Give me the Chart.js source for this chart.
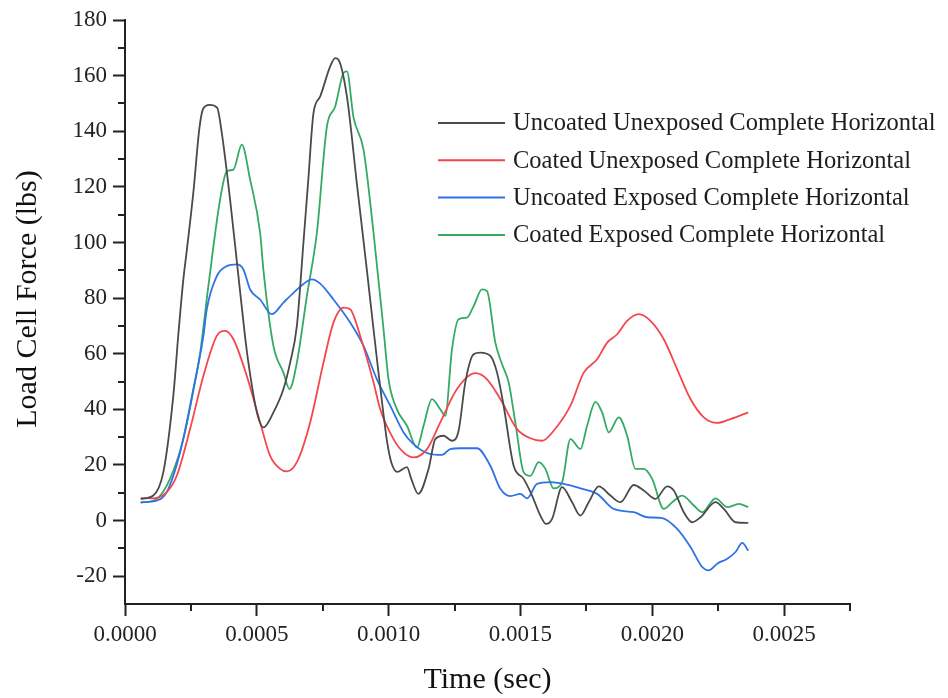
<!DOCTYPE html>
<html>
<head>
<meta charset="utf-8">
<script src="https://cdn.jsdelivr.net/npm/chart.js@4"></script>
<style>
  body { margin: 0; background: #fff; }
  #wrap { width: 948px; height: 698px; }
</style>
</head>
<body>
<div id="wrap"><canvas id="chart"></canvas></div>
<script>
// Time in seconds, force in lbs
const uuTime = [0.0000596, 0.0001074, 0.0001454, 0.0001834, 0.0002024, 0.0002213, 0.0002342, 0.0002593, 0.0002821, 0.0002961,
  0.0003200, 0.0003493, 0.0003671, 0.0003986, 0.0004290, 0.0004556, 0.0004708, 0.0005000, 0.0005251, 0.0005630, 0.0006010,
  0.0006264, 0.0006519, 0.0006769, 0.0006948, 0.0007149, 0.0007403, 0.0007783, 0.0007973, 0.0008098, 0.0008417,
  0.0008797, 0.0009176, 0.0009427, 0.0009605, 0.0009795, 0.0009947, 0.0010099, 0.0010327, 0.0010695, 0.0010858,
  0.0011124, 0.0011515, 0.0011769, 0.0012084, 0.0012403, 0.0012654, 0.0012908, 0.0013223, 0.0013478, 0.0013857,
  0.0014112, 0.0014362, 0.0014742, 0.0015121, 0.0015440, 0.0015756, 0.0015972, 0.0016200, 0.0016579, 0.0016959,
  0.0017274, 0.0017589, 0.0017969, 0.0018413, 0.0018793, 0.0019298, 0.0019677, 0.0020121, 0.0020566, 0.0020816,
  0.0021196, 0.0021515, 0.0021830, 0.0022399, 0.0022715, 0.0023159, 0.0023641];
const uuForce = [7.8, 9.0, 17.4, 45.0, 67.0, 86.7, 97.0, 118.0, 141.0, 148.0,
  149.5, 148.5, 139.4, 115.4, 89.0, 66.0, 55.0, 39.0, 33.5, 38.9, 47.3,
  56.8, 70.0, 100.0, 122.0, 146.5, 152.5, 163.3, 166.3, 165.7, 152.5,
  121.0, 90.0, 68.8, 54.0, 39.0, 28.0, 21.0, 17.5, 19.2, 15.0,
  9.6, 18.6, 29.3, 30.5, 28.7, 32.3, 49.7, 59.8, 60.4, 59.2,
  53.2, 41.3, 19.7, 15.0, 9.0, 1.8, -1.2, 0.6, 12.0, 6.6,
  1.8, 6.6, 12.3, 9.0, 6.6, 12.8, 10.8, 7.8, 12.3, 10.8,
  3.0, -0.6, 1.2, 6.6, 4.2, -0.6, -0.8];

const cuTime = [0.0000596, 0.0001074, 0.0001583, 0.0001963, 0.0002468, 0.0002973, 0.0003481, 0.0003797, 0.0004112, 0.0004620,
  0.0005125, 0.0005505, 0.0005885, 0.0006139, 0.0006519, 0.0007024, 0.0007528, 0.0007908, 0.0008288, 0.0008542,
  0.0008922, 0.0009427, 0.0009681, 0.0010186, 0.0010566, 0.0010945, 0.0011454, 0.0011959, 0.0012593, 0.0013288,
  0.0013732, 0.0014237, 0.0014871, 0.0015376, 0.0015820, 0.0016260, 0.0016895, 0.0017400, 0.0017908, 0.0018288,
  0.0018667, 0.0019047, 0.0019488, 0.0019932, 0.0020437, 0.0020945, 0.0021450, 0.0021955, 0.0022464, 0.0022969,
  0.0023641];
const cuForce = [8.1, 8.0, 10.2, 16.1, 32.9, 52.0, 66.4, 68.2, 65.2, 52.0,
  35.3, 23.3, 18.6, 17.7, 21.0, 35.3, 56.8, 71.2, 76.6, 76.0,
  66.4, 49.7, 40.0, 29.3, 24.5, 22.7, 25.7, 35.3, 47.3, 53.0,
  50.8, 43.7, 32.9, 29.6, 28.7, 32.3, 41.3, 53.2, 58.0, 64.0,
  67.0, 71.8, 74.2, 71.8, 65.2, 54.4, 43.7, 37.1, 35.1, 36.5,
  38.9];

const ueTime = [0.0000596, 0.0001203, 0.0001583, 0.0002088, 0.0002593, 0.0002973, 0.0003102, 0.0003481, 0.0003861, 0.0004241,
  0.0004491, 0.0004746, 0.0005125, 0.0005569, 0.0006010, 0.0006390, 0.0006898, 0.0007088, 0.0007403, 0.0007908,
  0.0008542, 0.0009047, 0.0009556, 0.0010061, 0.0010566, 0.0010945, 0.0011454, 0.0012024, 0.0012339, 0.0012719,
  0.0013352, 0.0013857, 0.0014237, 0.0014617, 0.0014996, 0.0015251, 0.0015630, 0.0016135, 0.0016640, 0.0017274,
  0.0017908, 0.0018538, 0.0019298, 0.0019807, 0.0020376, 0.0020945, 0.0021450, 0.0021895, 0.0022145, 0.0022464,
  0.0022844, 0.0023159, 0.0023413, 0.0023641];
const ueForce = [6.6, 7.2, 10.2, 24.5, 47.3, 66.4, 76.0, 87.9, 91.5, 92.1,
  90.3, 83.1, 79.5, 74.2, 78.4, 81.9, 86.0, 86.7, 85.2, 79.5,
  71.2, 62.8, 50.8, 41.3, 31.7, 27.5, 24.3, 23.6, 25.7, 26.0,
  26.0, 19.7, 11.4, 8.8, 9.6, 8.0, 13.2, 13.8, 13.2, 11.6,
  9.6, 4.2, 3.0, 1.2, 0.9, -3.0, -9.5, -16.7, -17.9, -15.5,
  -13.7, -11.3, -8.0, -10.8];

const ceTime = [0.0000596, 0.0001203, 0.0001708, 0.0002213, 0.0002722, 0.0002847, 0.0003162, 0.0003607, 0.0003861, 0.0004112,
  0.0004431, 0.0004746, 0.0005125, 0.0005251, 0.0005630, 0.0006010, 0.0006238, 0.0006519, 0.0006898, 0.0007278,
  0.0007658, 0.0007973, 0.0008288, 0.0008417, 0.0008667, 0.0009047, 0.0009427, 0.0009806, 0.0009996, 0.0010315,
  0.0010695, 0.0011074, 0.0011325, 0.0011644, 0.0011959, 0.0012149, 0.0012403, 0.0012654, 0.0012973, 0.0013223,
  0.0013542, 0.0013732, 0.0014047, 0.0014302, 0.0014552, 0.0014806, 0.0015121, 0.0015376, 0.0015691, 0.0015945,
  0.0016260, 0.0016579, 0.0016895, 0.0017274, 0.0017529, 0.0017844, 0.0018098, 0.0018349, 0.0018728, 0.0019047,
  0.0019362, 0.0019677, 0.0019996, 0.0020437, 0.0020756, 0.0021135, 0.0021576, 0.0021895, 0.0022399, 0.0022844,
  0.0023284, 0.0023641];
const ceForce = [6.4, 7.8, 15.0, 29.3, 53.2, 60.0, 84.3, 115.4, 125.6, 126.2,
  135.2, 122.6, 103.5, 90.0, 62.8, 53.2, 47.3, 56.8, 80.7, 103.5,
  141.7, 148.9, 160.9, 161.5, 145.0, 133.4, 103.5, 68.8, 50.8, 40.0,
  34.1, 26.3, 34.1, 43.7, 40.0, 37.7, 61.6, 72.4, 73.0, 77.1,
  83.1, 82.5, 64.0, 56.2, 49.7, 35.3, 17.4, 16.1, 21.0, 18.6,
  11.6, 13.8, 29.3, 25.7, 34.1, 42.7, 38.9, 31.7, 37.1, 30.5,
  18.6, 18.6, 15.0, 4.2, 6.6, 9.0, 5.4, 3.0, 8.0, 4.8,
  6.0, 4.8];

const seriesNames = [
  "Uncoated Unexposed Complete Horizontal",
  "Coated Unexposed Complete Horizontal",
  "Uncoated Exposed Complete Horizontal",
  "Coated Exposed Complete Horizontal",
];
const seriesColors = ["#4a4a4a", "#f4464c", "#2f72e6", "#34aa63"];

const xTicks = [0, 0.0005, 0.0010, 0.0015, 0.0020, 0.0025];
const yTicks = [-20, 0, 20, 40, 60, 80, 100, 120, 140, 160, 180];
const xMinor = [0.00025, 0.00075, 0.00125, 0.00175, 0.00225, 0.00275];
const yMinor = [-10, 10, 30, 50, 70, 90, 110, 130, 150, 170];

const axisColor = "#222";
const serif = '"Liberation Serif", "Times New Roman", serif';
Chart.defaults.font.family = serif;
Chart.defaults.color = axisColor;

function zip(ts, vs) {
  return ts.map((t, i) => ({ x: t, y: vs[i] }));
}

const allSeries = [[uuTime, uuForce], [cuTime, cuForce], [ueTime, ueForce], [ceTime, ceForce]];

// minor ticks, y title and the legend inside the plot
const extras = {
  id: "extras",
  afterDraw(chart) {
    const { ctx, scales: { x, y } } = chart;
    ctx.save();
    ctx.strokeStyle = axisColor;
    ctx.lineWidth = 2;
    ctx.beginPath();
    xMinor.forEach((v) => {
      const px = Math.round(x.getPixelForValue(v));
      ctx.moveTo(px, x.top);
      ctx.lineTo(px, x.top + 7);
    });
    yMinor.forEach((v) => {
      const py = Math.round(y.getPixelForValue(v));
      ctx.moveTo(y.right, py);
      ctx.lineTo(y.right - 7, py);
    });
    ctx.stroke();

    // y axis title
    ctx.save();
    ctx.translate(28, 299);
    ctx.rotate(-Math.PI / 2);
    ctx.font = "30px " + serif;
    ctx.fillStyle = "#111";
    ctx.textAlign = "center";
    ctx.textBaseline = "middle";
    ctx.fillText("Load Cell Force (lbs)", 0, 0);
    ctx.restore();

    ctx.font = "24.5px " + serif;
    ctx.textBaseline = "middle";
    ctx.textAlign = "left";
    chart.data.datasets.forEach((ds, i) => {
      const ly = 123 + i * 37.3;
      ctx.strokeStyle = ds.borderColor;
      ctx.lineWidth = 2;
      ctx.beginPath();
      ctx.moveTo(438, ly);
      ctx.lineTo(505, ly);
      ctx.stroke();
      ctx.fillStyle = "#1e1e1e";
      ctx.fillText(ds.label, 513, ly + 1);
    });
    ctx.restore();
  },
};

const chart = new Chart(document.getElementById("chart"), {
  type: "line",
  data: {
    datasets: allSeries.map(([ts, vs], i) => ({
      label: seriesNames[i],
      data: zip(ts, vs),
      borderColor: seriesColors[i],
      borderWidth: 1.8,
      pointRadius: 0,
      cubicInterpolationMode: "monotone",
      fill: false,
    })),
  },
  options: {
    responsive: true,
    maintainAspectRatio: false,
    animation: false,
    layout: { padding: { top: 20, right: 98, left: 0, bottom: 0 } },
    plugins: { legend: { display: false }, tooltip: { enabled: false } },
    scales: {
      x: {
        type: "linear",
        min: 0,
        max: 0.00275,
        afterFit: (s) => { s.height = 94; },
        afterBuildTicks: (s) => { s.ticks = xTicks.map((v) => ({ value: v })); },
        ticks: {
          autoSkip: false,
          maxRotation: 0,
          padding: 5,
          color: axisColor,
          font: { size: 23 },
          callback: (v) => Number(v).toFixed(4),
        },
        grid: { drawOnChartArea: false, tickLength: 12, tickWidth: 2, color: axisColor },
        border: { color: axisColor, width: 2 },
        title: {
          display: true,
          text: "Time (sec)",
          color: "#111",
          font: { size: 30 },
          padding: { top: 0, bottom: 0 },
        },
      },
      y: {
        min: -30,
        max: 180,
        afterFit: (s) => { s.width = 125; },
        afterBuildTicks: (s) => { s.ticks = yTicks.map((v) => ({ value: v })); },
        ticks: {
          padding: 6,
          color: axisColor,
          font: { size: 23 },
          callback: (v) => v,
        },
        grid: { drawOnChartArea: false, tickLength: 12, tickWidth: 2, color: axisColor },
        border: { color: axisColor, width: 2 },
        title: { display: false },
      },
    },
  },
  plugins: [extras],
});
</script>
</body>
</html>
